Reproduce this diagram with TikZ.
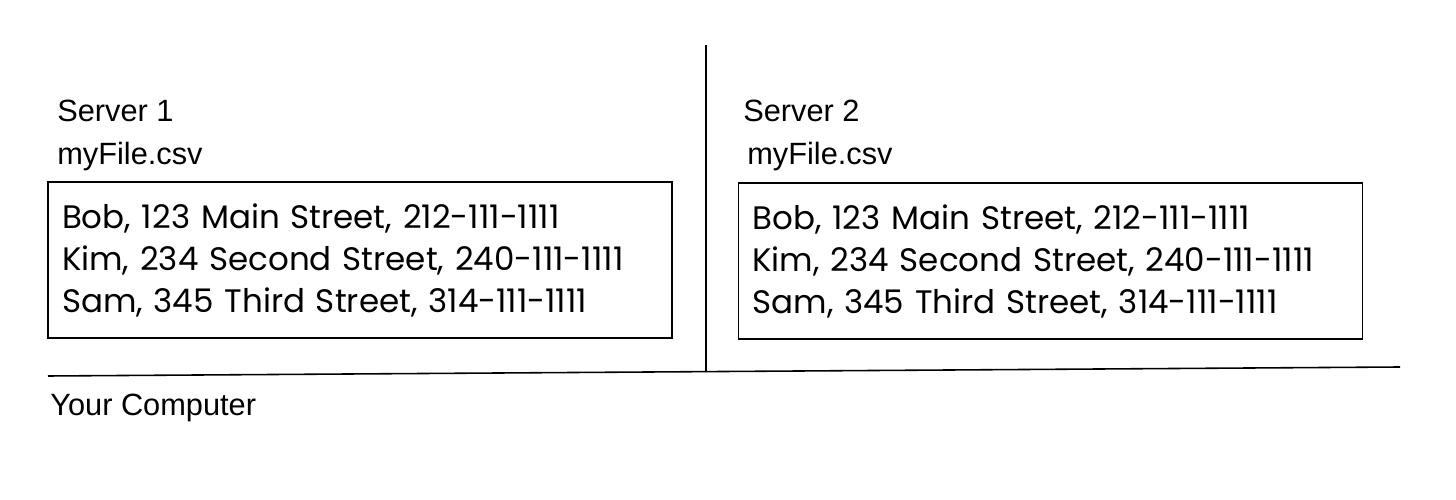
\documentclass[tikz,border=0pt]{standalone}
\usepackage{fontspec}
\setmainfont{Liberation Sans}
\newfontfamily\handfont{Poppins}
\usetikzlibrary{positioning}
\tikzstyle{caption} = [
anchor=base west,
inner sep=0pt,
font=\fontsize{17.5}{21}\selectfont]
\tikzstyle{filebox} = [
draw=black,
line width=0.8pt,
rectangle,
minimum width=12.48cm,
minimum height=3.12cm,
inner xsep=0.28cm,
text width=11.92cm,
align=left,
font=\handfont\fontsize{18.5}{23.9}\selectfont]
\tikzstyle{divider} = [
draw=black,
line width=0.9pt]

\begin{document}
\begin{tikzpicture}
\useasboundingbox (0,0) rectangle (29.12,-10);

% the two servers
\node[filebox] (fileOne) at (7.2,-5.2) {Bob, 123 Main Street, 212-111-1111\\Kim, 234 Second Street, 240-111-1111\\Sam, 345 Third Street, 314-111-1111};
\node[filebox] (fileTwo) at (21.01,-5.22) {Bob, 123 Main Street, 212-111-1111\\Kim, 234 Second Street, 240-111-1111\\Sam, 345 Third Street, 314-111-1111};

\node[caption] (serverOne) at (1.14,-2.44) {Server 1};
\node[caption] (nameOne) at (1.14,-3.30) {myFile.csv};
\node[caption] (serverTwo) at (14.86,-2.44) {Server 2};
\node[caption] (nameTwo) at (14.94,-3.30) {myFile.csv};
\node[caption] (computer) at (1.0,-8.32) {Your Computer};

% dividers
\coordinate (splitTop) at (14.12,-0.9);
\coordinate (splitBottom) at (14.12,-7.44);
\coordinate (floorLeft) at (0.96,-7.52);
\coordinate (floorRight) at (28.0,-7.34);
\draw[divider] (splitTop) -- (splitBottom);
\draw[divider] (floorLeft) -- (floorRight);

\end{tikzpicture}
\end{document}
